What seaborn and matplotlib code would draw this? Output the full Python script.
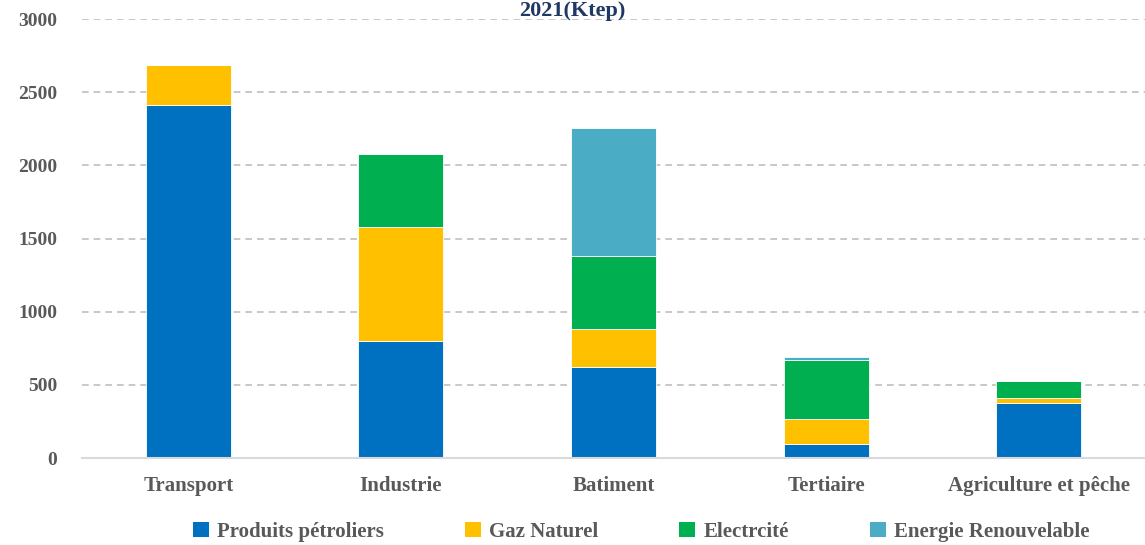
import pandas as pd
import numpy as np

import matplotlib
matplotlib.use("Agg")
import matplotlib.pyplot as plt
from matplotlib.patches import Patch
import seaborn as sns

# =========================
# DATA (Ktep)
# =========================
secteurs = ["Transport", "Industrie", "Batiment", "Tertiaire", "Agriculture et pêche"]
produits_petroliers = [2413, 802, 620, 93, 378]
gaz_naturel = [270, 777, 262, 176, 30]
electricite = [5, 497, 501, 401, 118]
energie_renouvelable = [0, 0, 875, 18, 0]

series_names = ["Produits pétroliers", "Gaz Naturel", "Electrcité", "Energie Renouvelable"]
series_values = [produits_petroliers, gaz_naturel, electricite, energie_renouvelable]
colors = ["#0070C0", "#FFC000", "#00B050", "#4BACC6"]

# =========================
# STYLE
# =========================
sns.set_theme(style="white")
plt.rcParams["font.family"] = ["Liberation Serif", "DejaVu Serif"]
text_grey = "#595959"

fig = plt.figure(figsize=(11.45, 5.45), dpi=100)
ax = fig.add_axes([0.0716, 0.1596, 0.9284, 0.8054])

# =========================
# STACKED BARS
# =========================
bottom = np.zeros(len(secteurs))
for name, vals, col in zip(series_names, series_values, colors):
    df = pd.DataFrame({"secteur": secteurs, "valeur": vals})
    sns.barplot(data=df, x="secteur", y="valeur", color=col, width=0.4,
                bottom=bottom, ax=ax, edgecolor="white", linewidth=0.6,
                saturation=1)
    bottom = bottom + np.array(vals)

ax.set_ylim(0, 3000)
ax.set_yticks(np.arange(0, 3001, 500))
ax.set_xlim(-0.5, len(secteurs) - 0.5)
ax.set_xlabel("")
ax.set_ylabel("")

ax.yaxis.grid(True, linestyle=(0, (4, 3)), color="#BFBFBF", linewidth=1.2)
ax.set_axisbelow(True)
for s in ["top", "right", "left"]:
    ax.spines[s].set_visible(False)
ax.spines["bottom"].set_color("#D9D9D9")
ax.spines["bottom"].set_linewidth(1.5)

ax.tick_params(axis="both", length=0)
ax.tick_params(axis="y", pad=18)
ax.tick_params(axis="x", pad=13)
for lbl in ax.get_yticklabels():
    lbl.set_fontsize(14)
    lbl.set_fontweight("bold")
    lbl.set_color(text_grey)
for lbl in ax.get_xticklabels():
    lbl.set_fontsize(15)
    lbl.set_fontweight("bold")
    lbl.set_color(text_grey)

# =========================
# TITLE (only its last line shows at the top edge)
# =========================
fig.text(0.5, 0.999, "2021(Ktep)", ha="center", va="top",
         fontsize=16, fontweight="bold", color="#1F3864")

# =========================
# LEGEND
# =========================
handles = [Patch(facecolor=c, edgecolor="none") for c in colors]
leg = fig.legend(handles, series_names, loc="center", bbox_to_anchor=(0.56, 0.024),
                 ncol=4, frameon=False, handlelength=0.75, handleheight=0.75,
                 handletextpad=0.4, columnspacing=3.9,
                 prop={"family": ["Liberation Serif", "DejaVu Serif"],
                       "size": 15, "weight": "bold"})
for t in leg.get_texts():
    t.set_color(text_grey)

fig.savefig("out.png", dpi=100)
